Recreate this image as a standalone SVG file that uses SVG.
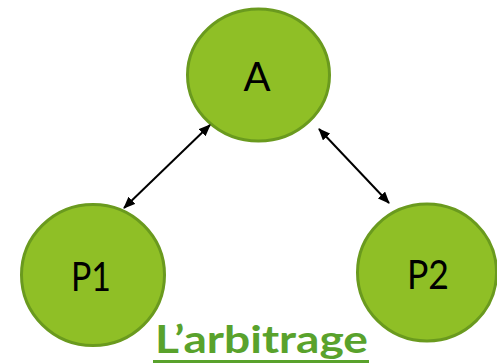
<svg xmlns="http://www.w3.org/2000/svg" width="497" height="364" viewBox="0 0 497 364">
<style>
.node{fill:#8fbf26;stroke:#6a9a1e;stroke-width:3}
.lbl{font-family:Lato,"Open Sans",sans-serif;font-size:40px;fill:#000;text-anchor:middle}
.conn{stroke:#000;stroke-width:2;fill:none;marker-start:url(#ah);marker-end:url(#ah)}
.title{font-family:Lato,"Open Sans",sans-serif;font-weight:bold;font-size:38px;fill:#59a22c}
</style>
<defs>
<marker id="ah" viewBox="0 0 12 10" refX="11" refY="5" markerWidth="12" markerHeight="10" markerUnits="userSpaceOnUse" orient="auto-start-reverse">
<path d="M0,0 L12,5 L0,10 z" fill="#000"/>
</marker>
</defs>
<g id="node-A"><ellipse class="node" cx="258.5" cy="75" rx="71" ry="66"/><text class="lbl" x="257" y="91">A</text></g>
<g id="node-P1"><ellipse class="node" cx="93" cy="275" rx="71.5" ry="70.5"/><text class="lbl" x="91" y="291" textLength="40" lengthAdjust="spacingAndGlyphs">P1</text></g>
<g id="node-P2"><ellipse class="node" cx="427" cy="272.5" rx="69.5" ry="68.5"/><text class="lbl" x="428" y="289" textLength="42" lengthAdjust="spacingAndGlyphs">P2</text></g>
<g id="connectors">
<line class="conn" x1="124" y1="208" x2="210" y2="125"/>
<line class="conn" x1="319" y1="129" x2="389" y2="203"/>
</g>
<g id="title"><text class="title" x="155" y="353" textLength="213" lengthAdjust="spacingAndGlyphs">L’arbitrage</text><rect x="153" y="360" width="216" height="3" fill="#59a22c"/></g>
</svg>
